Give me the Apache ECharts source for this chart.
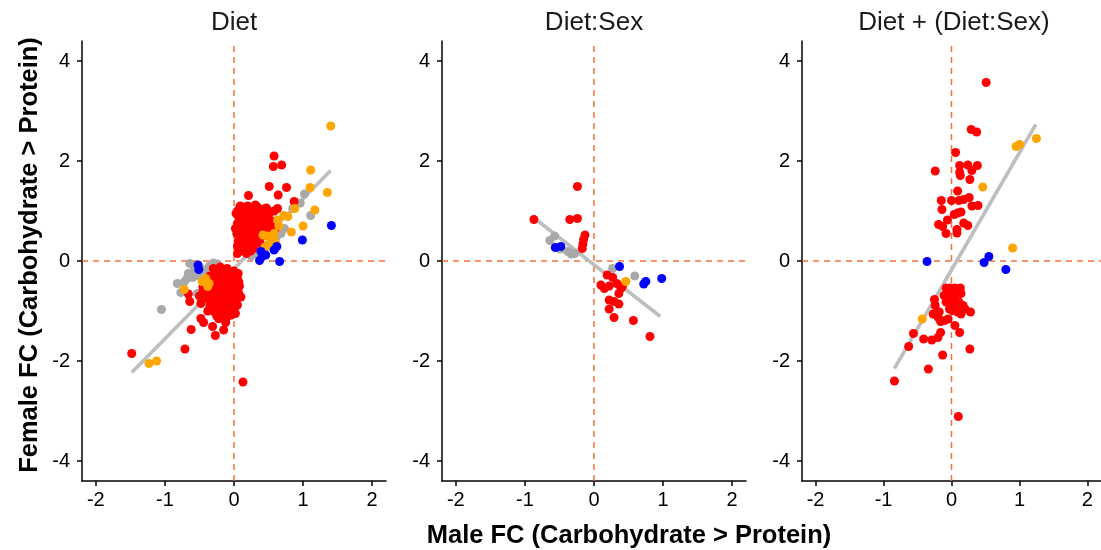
<!DOCTYPE html>
<html>
<head>
<meta charset="utf-8">
<script src="https://cdn.jsdelivr.net/npm/echarts@6/dist/echarts.min.js"></script>
<style>
  html, body { margin: 0; padding: 0; background: #fff; }
  #chart { width: 1101px; height: 550px; }
</style>
</head>
<body>
<div id="chart"></div>
<script>
// tick labels and panel titles
var xTicks = [-2, -1, 0, 1, 2];
var yTicks = [-4, -2, 0, 2, 4];
var panelTitles = ['Diet', 'Diet:Sex', 'Diet + (Diet:Sex)'];

// panel 1: Diet  [male FC, female FC]
var dietGray = [[-0.64,-0.05],[-0.24,-0.06],[-0.82,-0.45],[-0.68,-0.35],[-0.60,-0.33],[-0.77,-0.63],[-1.05,-0.97],
  [-0.48,-0.15],[-0.36,-0.11],[-0.43,-0.21],[-0.53,-0.65],[-0.55,-0.25],[-0.72,-0.42],[1.02,1.34],[1.11,0.91],
  [0.96,1.16],[0.73,0.65],[0.25,0.1],[0.3,0.15],[0.35,0.2],[0.5,0.3],[0.55,0.4],[0.62,0.5],[0.85,1.05],[0.68,0.55],
  [-0.3,-0.04],[-0.58,-0.12],[-0.66,-0.25],[-0.5,-0.3]];
var dietRed = [[0.58,2.1],[0.57,1.89],[0.69,1.92],[0.51,1.49],[0.76,1.47],[0.64,1.32],[0.21,1.31],[0.87,1.19],
  [0.63,1.05],[0.12,1.08],[0.2,1.1],[0.31,1.12],[0.47,1.06],
  [0.03,0.95],[0.05,0.75],[0.04,0.55],[0.06,0.4],[0.08,1.05],[0.1,0.85],[0.1,0.65],[0.1,0.45],[0.12,0.3],
  [0.15,1.0],[0.16,0.78],[0.15,0.58],[0.17,0.4],[0.2,0.9],[0.22,0.7],[0.2,0.5],[0.22,0.3],[0.25,1.05],
  [0.27,0.82],[0.28,0.62],[0.26,0.45],[0.3,0.95],[0.32,0.72],[0.33,0.55],[0.3,0.35],[0.36,0.85],[0.38,0.65],
  [0.4,0.95],[0.42,0.75],[0.45,0.62],[0.47,0.88],[0.5,0.7],[0.52,0.98],[0.55,0.8],[0.08,0.2],[0.14,0.2],
  [0.18,0.15],[0.24,0.2],[0.02,0.65],[0.06,0.9],[0.13,0.72],[0.19,0.62],[0.24,0.55],[0.35,0.42],[0.09,1.1],
  [0.34,1.08],[0.45,1.05],[0.58,1.0],[0.6,0.65],[0.12,0.52],[0.28,0.25],[0.4,0.5],
  [0.05,1.0],[0.14,0.92],[0.24,0.95],[0.34,0.98],[0.44,0.9],[0.08,0.8],[0.18,0.82],[0.29,0.88],[0.4,0.82],
  [0.5,0.85],[0.05,0.62],[0.15,0.68],[0.25,0.72],[0.35,0.75],[0.45,0.72],[0.08,0.5],[0.18,0.52],[0.28,0.5],
  [0.38,0.55],[0.05,0.3],[0.15,0.35],[0.25,0.38],[0.05,0.15],[0.18,0.25],[0.38,0.35],[0.55,0.6],
  [-1.48,-1.85],[-0.71,-1.76],[-0.62,-1.37],[-0.27,-1.49],[-0.15,-1.38],[-0.31,-1.31],[-0.12,-1.23],
  [-0.44,-1.23],[-0.48,-1.15],[0.13,-2.42],[-0.64,-0.81],[-0.66,-0.66],[-0.22,-1.15],[-0.07,-1.01],
  [-0.3,-0.15],[-0.2,-0.12],[-0.1,-0.15],[0.0,-0.2],[-0.35,-0.3],[-0.25,-0.28],[-0.15,-0.3],[-0.05,-0.32],
  [0.05,-0.35],[-0.42,-0.45],[-0.32,-0.42],[-0.22,-0.45],[-0.12,-0.44],[-0.02,-0.48],[0.08,-0.5],[-0.45,-0.6],
  [-0.36,-0.58],[-0.26,-0.6],[-0.16,-0.58],[-0.06,-0.62],[0.04,-0.6],[-0.4,-0.75],[-0.3,-0.72],[-0.2,-0.75],
  [-0.1,-0.74],[0.0,-0.78],[0.1,-0.72],[-0.35,-0.88],[-0.25,-0.9],[-0.15,-0.88],[-0.05,-0.92],[0.05,-0.88],
  [-0.28,-1.02],[-0.18,-1.05],[-0.08,-1.0],[0.02,-1.05],[-0.22,-1.15],[-0.1,-1.12],[-0.5,-0.7],[-0.48,-0.85],
  [-0.38,-1.0],[-0.12,-0.22],[-0.28,-0.5],[-0.18,-0.67],[-0.08,-0.82],[0.06,-0.25],
  [-0.27,-0.2],[-0.17,-0.2],[-0.07,-0.24],[-0.4,-0.37],[-0.3,-0.35],[-0.2,-0.37],[-0.1,-0.38],[0.0,-0.4],
  [-0.37,-0.52],[-0.23,-0.52],[-0.13,-0.5],[-0.03,-0.55],[0.07,-0.42],[-0.42,-0.67],[-0.32,-0.65],[-0.22,-0.66],
  [-0.12,-0.65],[-0.02,-0.7],[0.07,-0.65],[-0.35,-0.8],[-0.25,-0.82],[-0.15,-0.8],[-0.05,-0.85],[0.03,-0.82],
  [-0.3,-0.95],[-0.2,-0.97],[-0.1,-0.95],[0.0,-0.95],[-0.25,-1.1],[-0.15,-1.1],[-0.04,-1.08],[-0.45,-0.52]];
var dietOrange = [[1.40,2.70],[1.11,1.82],[1.10,1.47],[1.35,1.37],[1.17,1.02],[0.88,1.05],[0.72,0.91],[0.78,0.89],
  [1.0,0.70],[0.83,0.58],[0.63,0.82],[0.65,0.70],[0.42,0.52],[0.48,0.5],[0.55,0.45],[0.6,0.38],[0.5,0.33],
  [0.45,0.28],[0.58,0.55],[-0.41,-0.35],[-0.36,-0.45],[-0.38,-0.51],[-0.46,-0.41],[-0.72,-0.57],[-1.23,-2.05],[-1.12,-2.0]];
var dietBlue = [[1.41,0.71],[0.99,0.42],[0.66,-0.01],[0.39,0.19],[0.41,0.09],[0.37,0.01],[0.46,0.12],[0.58,0.22],
  [0.62,0.29],[-0.52,-0.08],[-0.51,-0.17]];
var dietFit = [[-1.48,-2.23],[1.40,1.81]];

// panel 2: Diet:Sex
var sexGray = [[-0.64,0.41],[-0.57,0.50],[-0.49,0.24],[-0.38,0.19],[-0.33,0.14],[-0.28,0.15],[0.27,-0.15],[0.59,-0.30]];
var sexRed = [[-0.87,0.83],[-0.24,1.49],[-0.35,0.83],[-0.24,0.85],[-0.13,0.52],[-0.15,0.43],[-0.16,0.34],[-0.17,0.25],
  [0.19,-0.28],[0.27,-0.33],[0.10,-0.48],[0.15,-0.55],[0.22,-0.50],[0.33,-0.45],[0.39,-0.55],[0.36,-0.65],
  [0.41,-0.51],[0.22,-0.78],[0.29,-0.81],[0.36,-0.86],[0.22,-0.96],[0.29,-1.13],[0.57,-1.19],[0.81,-1.51]];
var sexOrange = [[0.46,-0.41]];
var sexBlue = [[-0.56,0.27],[-0.48,0.29],[0.37,-0.11],[0.75,-0.41],[0.72,-0.46],[0.98,-0.35]];
var sexFit = [[-0.82,0.81],[0.96,-1.11]];

// panel 3: Diet + (Diet:Sex)
var bothGray = [];
var bothRed = [[0.51,3.57],[0.29,2.63],[0.37,2.58],[0.06,2.17],[-0.24,1.80],[0.12,1.91],[0.24,1.92],[0.38,1.91],
  [0.12,1.77],[0.30,1.81],[0.13,1.71],[0.27,1.63],[0.09,1.40],[0.0,1.21],[0.11,1.21],[0.18,1.23],[0.26,1.27],
  [-0.15,1.21],[-0.14,1.03],[0.30,1.10],[0.39,1.11],[0.09,0.96],[0.14,0.98],[0.04,0.93],[-0.06,0.82],
  [-0.19,0.73],[-0.13,0.69],[0.18,0.76],[0.24,0.71],[-0.08,0.55],[0.08,0.63],[0.08,0.56],
  [-0.84,-2.40],[-0.34,-2.16],[-0.13,-1.88],[0.10,-3.11],[0.27,-1.76],[-0.63,-1.71],[-0.56,-1.45],[-0.41,-1.56],
  [-0.29,-1.58],[-0.20,-1.53],[-0.16,-1.43],[0.05,-1.29],[0.12,-1.43],[-0.25,-0.77],[-0.24,-0.89],
  [-0.27,-1.06],[-0.20,-1.12],[-0.16,-1.21],[-0.10,-1.19],[-0.05,-1.16],[-0.18,-1.02],
  [-0.08,-0.54],[-0.02,-0.54],[0.05,-0.54],[0.13,-0.54],[-0.06,-0.62],[0.01,-0.65],[0.09,-0.62],[0.14,-0.65],
  [-0.11,-0.69],[-0.03,-0.72],[0.04,-0.75],[0.11,-0.82],[-0.01,-0.82],[-0.08,-0.82],[0.06,-0.92],[0.13,-0.92],
  [0.17,-0.89],[0.20,-0.96],[0.28,-1.02],[0.14,-1.06],[0.01,-0.99],[0.09,-1.02],[-0.03,-0.96]];
var bothOrange = [[0.95,2.29],[1.00,2.33],[1.25,2.45],[0.46,1.48],[0.90,0.26],[-0.43,-1.16]];
var bothBlue = [[-0.36,-0.01],[0.48,-0.03],[0.55,0.09],[0.80,-0.17]];
var bothFit = [[-0.84,-2.15],[1.24,2.73]];

// dashed zero reference lines (span the full axis range)
var zeroVertical = [[0, -4.4], [0, 4.4]];
var zeroHorizontal = [[-2.2, 0], [2.2, 0]];

var panels = [
  { gray: dietGray, red: dietRed, orange: dietOrange, blue: dietBlue, fit: dietFit },
  { gray: sexGray, red: sexRed, orange: sexOrange, blue: sexBlue, fit: sexFit },
  { gray: bothGray, red: bothRed, orange: bothOrange, blue: bothBlue, fit: bothFit }
];

var gridLefts = [82, 442, 802];
var font = '"Liberation Sans", Arial, sans-serif';
var grids = [], xAxes = [], yAxes = [], series = [], graphics = [];

function dashed(i, data) {
  return {
    type: 'line', xAxisIndex: i, yAxisIndex: i, data: data, showSymbol: false, silent: true, z: 0,
    lineStyle: { color: '#F4703F', type: [6, 5], width: 1.5, opacity: 1 }
  };
}

panels.forEach(function (p, i) {
  grids.push({ left: gridLefts[i], top: 41, width: 304, height: 440 });
  xAxes.push({
    gridIndex: i, type: 'value', min: -2.2, max: 2.2,
    splitLine: { show: false },
    axisLine: { onZero: false, lineStyle: { color: '#000', width: 1.5 } },
    axisTick: { customValues: xTicks, length: 5, lineStyle: { color: '#000', width: 1.5 } },
    axisLabel: { customValues: xTicks, color: '#000', fontSize: 20, fontFamily: font, margin: 9 }
  });
  yAxes.push({
    gridIndex: i, type: 'value', min: -4.4, max: 4.4,
    splitLine: { show: false },
    axisLine: { onZero: false, lineStyle: { color: '#000', width: 1.5 } },
    axisTick: { customValues: yTicks, length: 5, lineStyle: { color: '#000', width: 1.5 } },
    axisLabel: { customValues: yTicks, color: '#000', fontSize: 20, fontFamily: font, margin: 12 }
  });
  series.push(dashed(i, zeroVertical), dashed(i, zeroHorizontal));
  series.push({
    type: 'line', xAxisIndex: i, yAxisIndex: i, data: p.fit, showSymbol: false, z: 1,
    lineStyle: { color: '#BEBEBE', width: 3.5 }
  });
  [['#A9A9A9', p.gray], ['#FF0000', p.red], ['#FFA500', p.orange], ['#0000FF', p.blue]].forEach(function (s, k) {
    series.push({
      type: 'scatter', xAxisIndex: i, yAxisIndex: i, data: s[1], symbolSize: 9, z: 2 + k,
      itemStyle: { color: s[0], opacity: 1 }
    });
  });
  graphics.push({
    type: 'text', x: gridLefts[i] + 152, y: 23,
    style: { text: panelTitles[i], font: '26px ' + font, fill: '#1a1a1a', textAlign: 'center', textVerticalAlign: 'middle' }
  });
});

graphics.push({
  type: 'text', x: 629, y: 536,
  style: { text: 'Male FC (Carbohydrate > Protein)', font: 'bold 25.5px ' + font, fill: '#000', textAlign: 'center', textVerticalAlign: 'middle' }
});
graphics.push({
  type: 'text', x: 30, y: 255, rotation: Math.PI / 2,
  style: { text: 'Female FC (Carbohydrate > Protein)', font: 'bold 25.5px ' + font, fill: '#000', textAlign: 'center', textVerticalAlign: 'middle' }
});

var chart = echarts.init(document.getElementById('chart'));
chart.setOption({
  animation: false,
  backgroundColor: '#fff',
  grid: grids,
  xAxis: xAxes,
  yAxis: yAxes,
  series: series,
  graphic: graphics
});
</script>
</body>
</html>
